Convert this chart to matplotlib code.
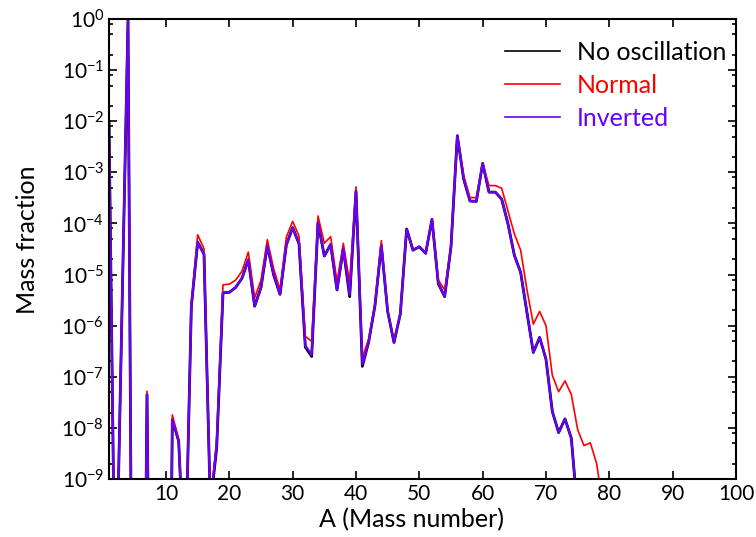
import matplotlib
matplotlib.use("Agg")
import matplotlib.pyplot as plt
from matplotlib.ticker import LogLocator, LogFormatterMathtext, MultipleLocator, NullFormatter

plt.rcParams['font.family'] = ['Lato', 'DejaVu Sans']
plt.rcParams['mathtext.fontset'] = 'custom'
plt.rcParams['mathtext.rm'] = 'Lato'
plt.rcParams['mathtext.it'] = 'Lato:italic'
plt.rcParams['mathtext.bf'] = 'Lato:bold'
plt.rcParams['axes.unicode_minus'] = False

# mass number A = 1..80
mass_number = list(range(1, 81))

# mass fractions (values far below 1e-9 just run off the axis)
inverted = [1e-2, 1e-12, 1e-6, 0.95, 1e-20, 1e-20, 4.5e-8, 1e-20, 1e-20, 1e-20,
            1.45e-8, 5.5e-9, 1e-11, 2.4e-6, 4.3e-5, 2.5e-5, 3e-10, 4.5e-9, 4.4e-6, 4.5e-6,
            5.6e-6, 8.5e-6, 1.95e-5, 2.4e-6, 5.6e-6, 3.7e-5, 9.8e-6, 4.1e-6, 3.8e-5, 8.3e-5,
            4.0e-5, 4.1e-7, 2.7e-7, 1.05e-4, 2.3e-5, 3.9e-5, 5.0e-6, 3.2e-5, 4.0e-6, 4.3e-4,
            1.75e-7, 4.8e-7, 2.5e-6, 3.7e-5, 1.9e-6, 4.7e-7, 1.7e-6, 7.8e-5, 3.0e-5, 3.5e-5,
            2.6e-5, 1.2e-4, 6.6e-6, 3.7e-6, 3.5e-5, 5.2e-3, 7.4e-4, 2.75e-4, 2.7e-4, 1.5e-3,
            4.1e-4, 4.1e-4, 3.0e-4, 9.8e-5, 2.4e-5, 1.1e-5, 1.8e-6, 3.0e-7, 5.9e-7, 2.2e-7,
            2.1e-8, 8.1e-9, 1.5e-8, 6.3e-9, 2.2e-10, 1e-11, 1e-12, 1e-13, 1e-14, 1e-15]

normal = [1e-2, 1e-12, 1e-6, 0.95, 1e-20, 1e-20, 5.2e-8, 1e-20, 1e-20, 1e-20,
          1.8e-8, 6e-9, 1e-11, 2.6e-6, 6e-5, 3.2e-5, 3e-10, 6e-9, 6.3e-6, 6.5e-6,
          7.8e-6, 1.17e-5, 2.75e-5, 3.5e-6, 7.8e-6, 4.8e-5, 1.3e-5, 5e-6, 5.4e-5, 1.1e-4,
          5.7e-5, 6.2e-7, 4.9e-7, 1.4e-4, 4.1e-5, 5.5e-5, 7.2e-6, 4.1e-5, 6.8e-6, 5.2e-4,
          2.4e-7, 5.5e-7, 2.7e-6, 4.6e-5, 1.9e-6, 4.8e-7, 1.75e-6, 7.8e-5, 3.0e-5, 3.5e-5,
          2.6e-5, 1.2e-4, 7.8e-6, 5e-6, 3.6e-5, 5.3e-3, 8.7e-4, 3.2e-4, 3.2e-4, 1.5e-3,
          5.5e-4, 5.5e-4, 4.9e-4, 1.74e-4, 6.3e-5, 3e-5, 5e-6, 1.07e-6, 1.9e-6, 1e-6,
          1.07e-7, 5.1e-8, 8.3e-8, 4.5e-8, 9.3e-9, 4.5e-9, 5.1e-9, 2e-9, 3e-10, 1e-11]

no_oscillation = list(inverted)
no_oscillation[17] = 4e-9     # A=18
no_oscillation[31] = 3.8e-7   # A=32
no_oscillation[32] = 2.5e-7   # A=33
no_oscillation[38] = 3.7e-6   # A=39
no_oscillation[40] = 1.6e-7   # A=41

fig = plt.figure(figsize=(7.56, 5.37), dpi=100)
ax = fig.add_axes([0.1442, 0.108, 0.8293, 0.8566])

ax.plot(mass_number, no_oscillation, color='black', lw=2.0, label='No oscillation')
ax.plot(mass_number, normal, color='#ff0000', lw=1.2, label='Normal')
ax.plot(mass_number, inverted, color='#6600ff', lw=1.6, label='Inverted')

ax.set_yscale('log')
ax.set_xlim(1, 100)
ax.set_ylim(1e-9, 1)
ax.xaxis.set_major_locator(MultipleLocator(10))
ax.yaxis.set_major_locator(LogLocator(base=10, numticks=12))
ax.yaxis.set_major_formatter(LogFormatterMathtext())
ax.yaxis.set_minor_locator(LogLocator(base=10, subs=(2.0, 5.0, 8.0), numticks=12))
ax.yaxis.set_minor_formatter(NullFormatter())

ax.tick_params(which='both', direction='in', top=True, right=True, labelsize=15, width=1.2)
ax.tick_params(which='major', length=6)
ax.tick_params(which='minor', length=3)
for s in ax.spines.values():
    s.set_linewidth(1.5)

ax.set_xlabel('A (Mass number)', fontsize=18)
ax.set_ylabel('Mass fraction', fontsize=18)
ax.xaxis.set_label_coords(0.482, -0.064)
ax.yaxis.set_label_coords(-0.112, 0.52)

leg = ax.legend(loc='upper right', bbox_to_anchor=(1.0, 0.974), frameon=False, fontsize=18,
                labelcolor='linecolor', handlelength=2.2, handletextpad=0.65,
                borderaxespad=0.0, labelspacing=0.4)
for line in leg.get_lines():
    line.set_linewidth(1.2)

fig.savefig('out.png', dpi=100)
